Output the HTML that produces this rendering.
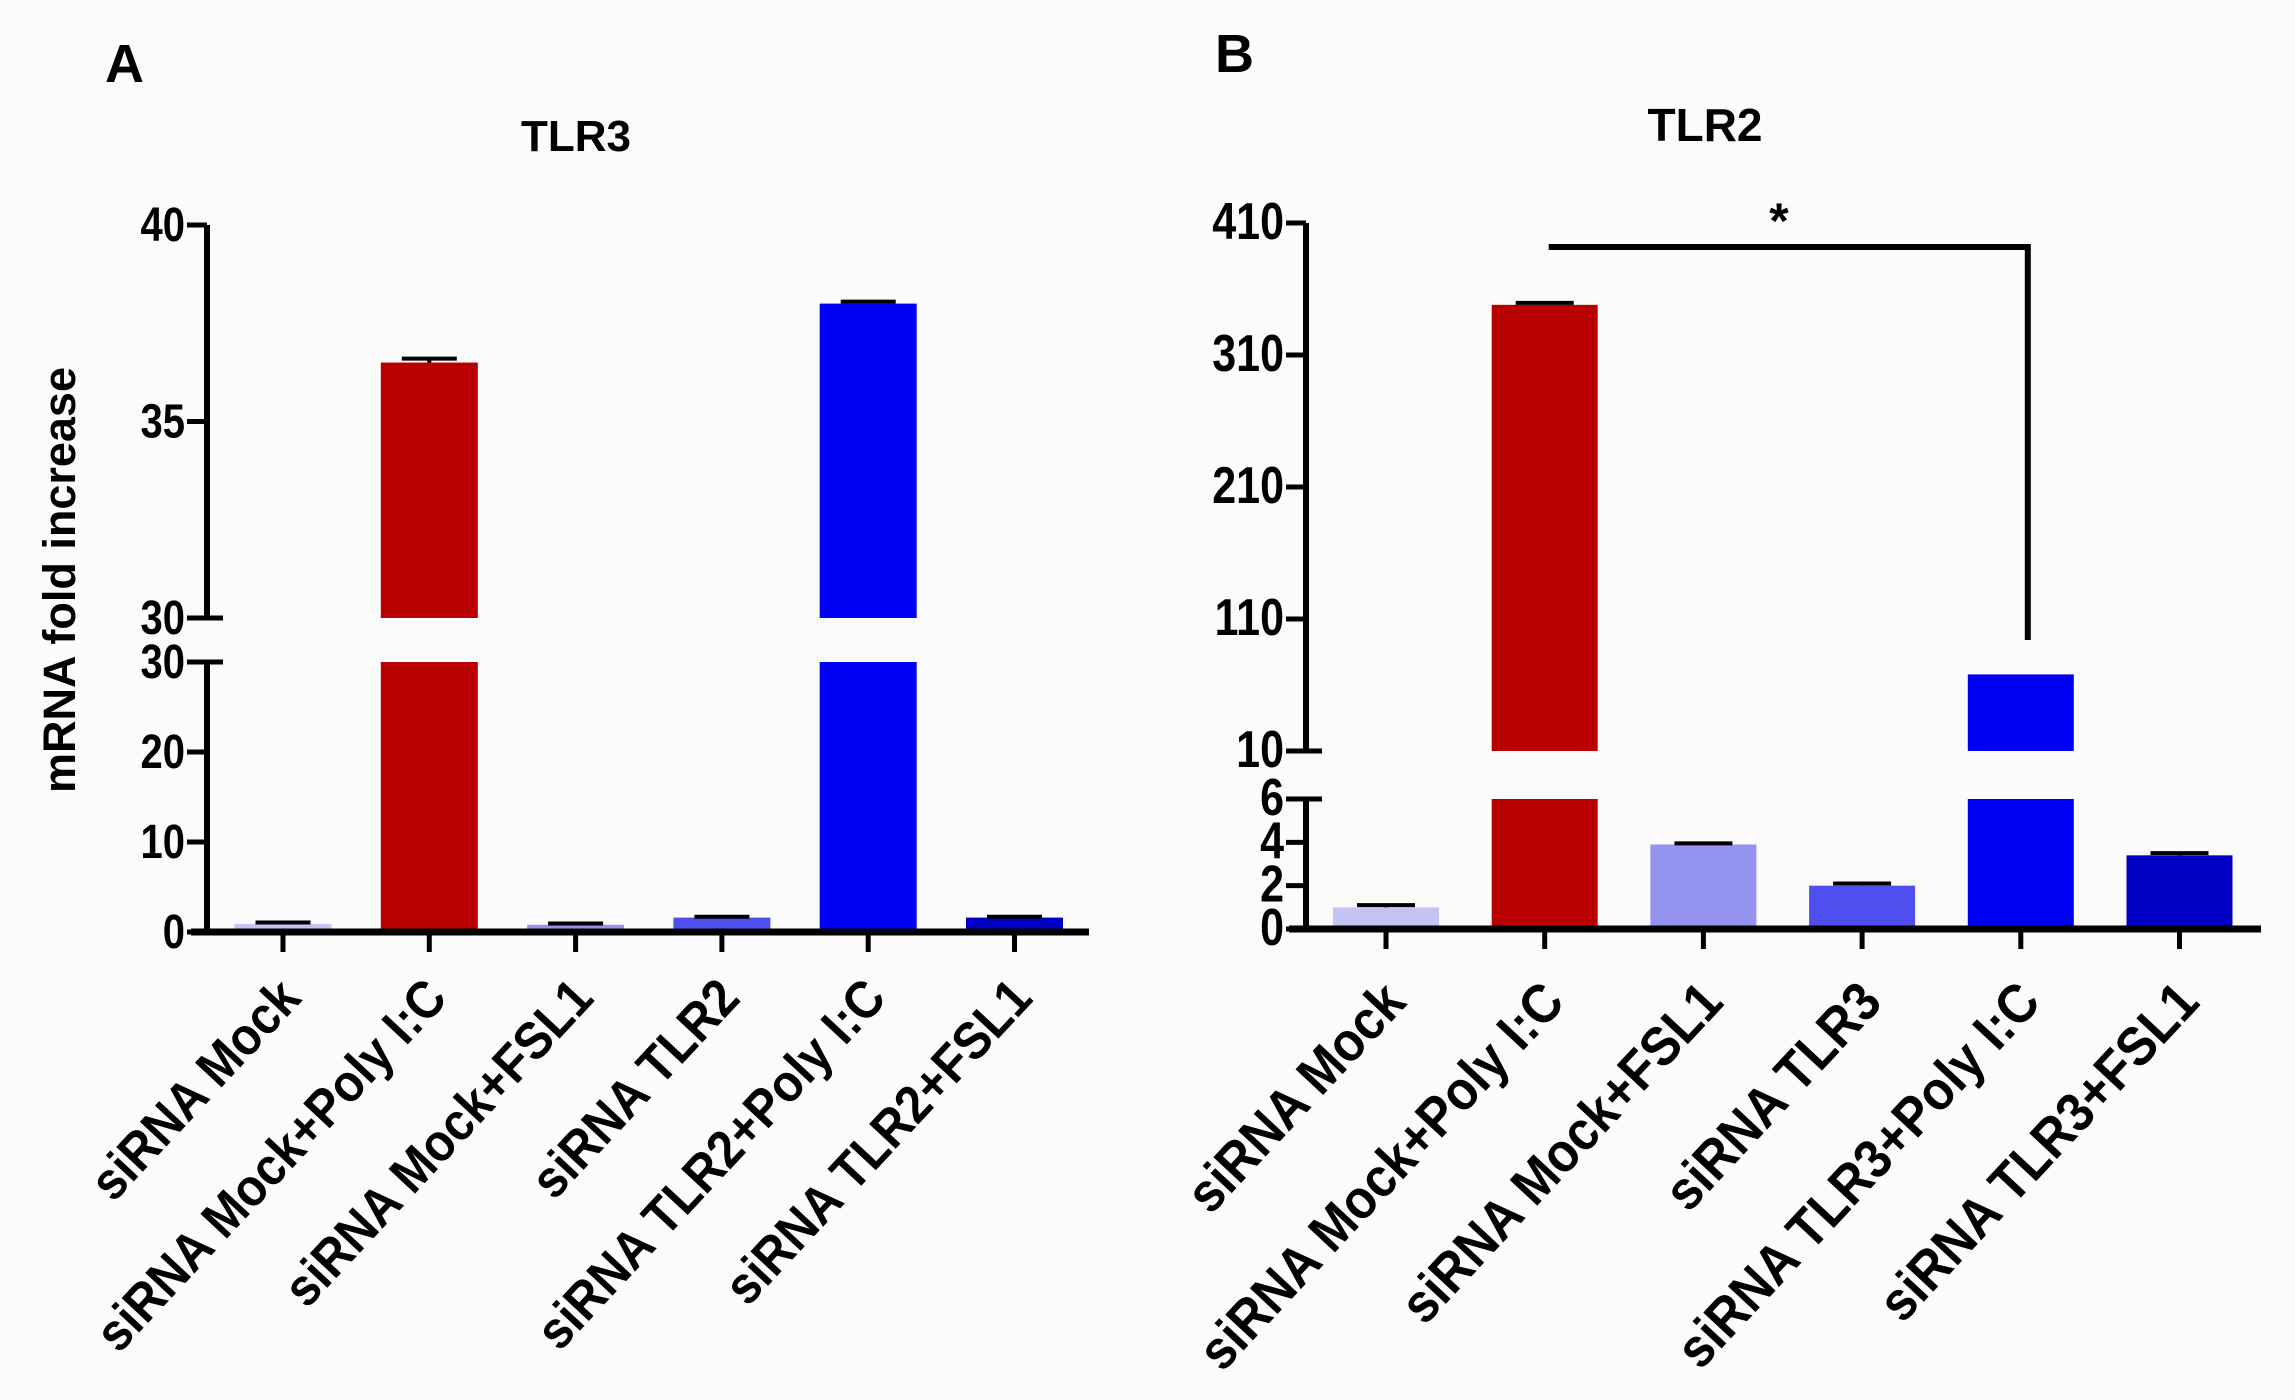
<!DOCTYPE html>
<html><head><meta charset="utf-8"><style>
html,body{margin:0;padding:0;background:#fbfbfb;}
svg{display:block;font-family:"Liberation Sans",Arial,sans-serif;font-weight:bold;}
</style></head><body>
<svg id="chart" width="2295" height="1400" viewBox="0 0 2295 1400" xmlns="http://www.w3.org/2000/svg">
<rect width="2295" height="1400" fill="#fbfbfb"/>
<g id="pa"></g>
<g id="pb"></g>
</svg>
<script>
// ---- Panel A data (TLR3) ----
const catsA = ["siRNA Mock","siRNA Mock+Poly I:C","siRNA Mock+FSL1","siRNA TLR2","siRNA TLR2+Poly I:C","siRNA TLR2+FSL1"];
const valsA = [0.9, 36.5, 0.8, 1.6, 38.0, 1.6];
const errA = [0.15, 0.1, 0.15, 0.1, 0.05, 0.1];
const lowTicksA = [0, 10, 20, 30];
const highTicksA = [30, 35, 40];
// ---- Panel B data (TLR2) ----
const catsB = ["siRNA Mock","siRNA Mock+Poly I:C","siRNA Mock+FSL1","siRNA TLR3","siRNA TLR3+Poly I:C","siRNA TLR3+FSL1"];
const valsB = [1.0, 348, 3.9, 2.0, 68, 3.4];
const errB = [0.1, 1.5, 0.05, 0.1, 0, 0.1];
const lowTicksB = [0, 2, 4, 6];
const highTicksB = [10, 110, 210, 310, 410];

const colorsA = ["#c4c4f4","#b80000","#9494f0","#4f4ff0","#0000f4","#0000c4"];
const colorsB = ["#c4c4f4","#b80000","#9494f0","#4f4ff0","#0000f4","#0000c4"];
const NS = "http://www.w3.org/2000/svg";

function mk(parent, tag, attrs, text){
  const e = document.createElementNS(NS, tag);
  for (const k in attrs) e.setAttribute(k, attrs[k]);
  if (text !== undefined) e.textContent = text;
  parent.appendChild(e);
  return e;
}

function drawPanel(g, cfg){
  const {cats, vals, errs, lowTicks, highTicks, colors} = cfg;
  const lowMin = lowTicks[0], lowMax = lowTicks[lowTicks.length-1];
  const hiMin = highTicks[0], hiMax = highTicks[highTicks.length-1];
  const yLow = v => cfg.lowBot - (v - lowMin) / (lowMax - lowMin) * (cfg.lowBot - cfg.lowTop);
  const yHigh = v => cfg.hiBot - (v - hiMin) / (hiMax - hiMin) * (cfg.hiBot - cfg.hiTop);
  const xC = i => cfg.x0 + i * cfg.step;
  const yVal = v => v > lowMax ? yHigh(v) : yLow(v);

  cats.forEach((c, i) => {
    const v = vals[i];
    const x = xC(i) - cfg.bw/2;
    const slug = c.toLowerCase().replace(/[^a-z0-9]+/g,'-');
    if (v > lowMax) {
      let r = mk(g, 'rect', {x:x, y:yLow(lowMax), width:cfg.bw, height:cfg.lowBot - yLow(lowMax), fill:colors[i]});
      
      
      const top = yHigh(v);
      r = mk(g, 'rect', {x:x, y:top, width:cfg.bw, height:cfg.hiBot - top, fill:colors[i]});
      
      
    } else {
      const top = yLow(v);
      const r = mk(g, 'rect', {x:x, y:top, width:cfg.bw, height:cfg.lowBot - top, fill:colors[i]});
      
      
    }
    if (errs[i] > 0) {
      const ye = yVal(v + errs[i]);
      const eb = mk(g, 'path', {d:`M${xC(i)-cfg.cap/2},${ye}H${xC(i)+cfg.cap/2}M${xC(i)},${ye}V${yVal(v)}`, stroke:'#000', 'stroke-width':4, fill:'none'});
      
      
    }
    const t = mk(g, 'line', {x1:xC(i), x2:xC(i), y1:cfg.lowBot, y2:cfg.lowBot+20, stroke:'#000', 'stroke-width':5});
    
    
    const lx = xC(i) + cfg.labDx, ly = cfg.labY;
    const lab = mk(g, 'text', {x:0, y:0, 'text-anchor':'end', 'font-size':cfg.labFs, transform:`translate(${lx} ${ly}) rotate(-47) scale(1 1.1)`}, c);
    
    
  });

  let a = mk(g, 'line', {x1:cfg.ax, x2:cfg.ax, y1:cfg.lowBot+2, y2:cfg.lowTop, stroke:'#000', 'stroke-width':6});
  
  
  a = mk(g, 'line', {x1:cfg.ax, x2:cfg.ax, y1:cfg.hiBot, y2:cfg.hiTop, stroke:'#000', 'stroke-width':6});
  
  
  a = mk(g, 'line', {x1:cfg.xa0, x2:cfg.xa1, y1:cfg.lowBot, y2:cfg.lowBot, stroke:'#000', 'stroke-width':7});
  
  

  const tickLabel = (y, t) => {
    const tl = mk(g, 'text', {x:0, y:0, 'text-anchor':'end', 'font-size':cfg.tickFs, transform:`translate(${cfg.ax-22} ${y+16}) scale(1 1.21)`}, String(t));
    
    
  };
  lowTicks.forEach((t, k) => {
    const y = yLow(t);
    const isEdge = k === lowTicks.length-1;
    const tk = mk(g, 'line', {x1:cfg.ax-20, x2:isEdge ? cfg.ax+16 : cfg.ax, y1:y, y2:y, stroke:'#000', 'stroke-width':5});
    
    
    tickLabel(y, t);
  });
  highTicks.forEach((t, k) => {
    const y = yHigh(t);
    const isEdge = k === 0;
    const tk = mk(g, 'line', {x1:cfg.ax-20, x2:isEdge ? cfg.ax+16 : cfg.ax, y1:y, y2:y, stroke:'#000', 'stroke-width':5});
    
    
    tickLabel(y, t);
  });
  return {xC, yHigh};
}

const pa = document.getElementById('pa');
drawPanel(pa, {cats:catsA, vals:valsA, errs:errA, lowTicks:lowTicksA, highTicks:highTicksA, colors:colorsA,
  lowBot:932, lowTop:662, hiBot:618, hiTop:225, x0:283, step:146.3, bw:97, cap:55,
  ax:207, xa0:191, xa1:1089, labY:1000, labDx:20, labFs:48, tickFs:40});
const pb = document.getElementById('pb');
const B = drawPanel(pb, {cats:catsB, vals:valsB, errs:errB, lowTicks:lowTicksB, highTicks:highTicksB, colors:colorsB,
  lowBot:929, lowTop:799, hiBot:751, hiTop:223, x0:1386, step:158.7, bw:106, cap:58,
  ax:1306, xa0:1289, xa1:2261, labY:1004, labDx:22, labFs:50, tickFs:43});

let s = mk(pb, 'path', {d:`M${B.xC(1)+4},247H${B.xC(4)+7}V640`, stroke:'#000', 'stroke-width':6, fill:'none'});


s = mk(pb, 'text', {x:1779, y:238, 'text-anchor':'middle', 'font-size':50}, '*');



let t = mk(pa, 'text', {x:105, y:82, 'font-size':54}, 'A');


t = mk(pa, 'text', {x:576, y:151, 'text-anchor':'middle', 'font-size':44}, 'TLR3');


t = mk(pa, 'text', {x:75, y:580, 'text-anchor':'middle', 'font-size':45, transform:'rotate(-90 75 580)'}, 'mRNA fold increase');


t = mk(pb, 'text', {x:1215, y:72, 'font-size':54}, 'B');


t = mk(pb, 'text', {x:1705, y:141, 'text-anchor':'middle', 'font-size':46}, 'TLR2');


</script>
</body></html>
